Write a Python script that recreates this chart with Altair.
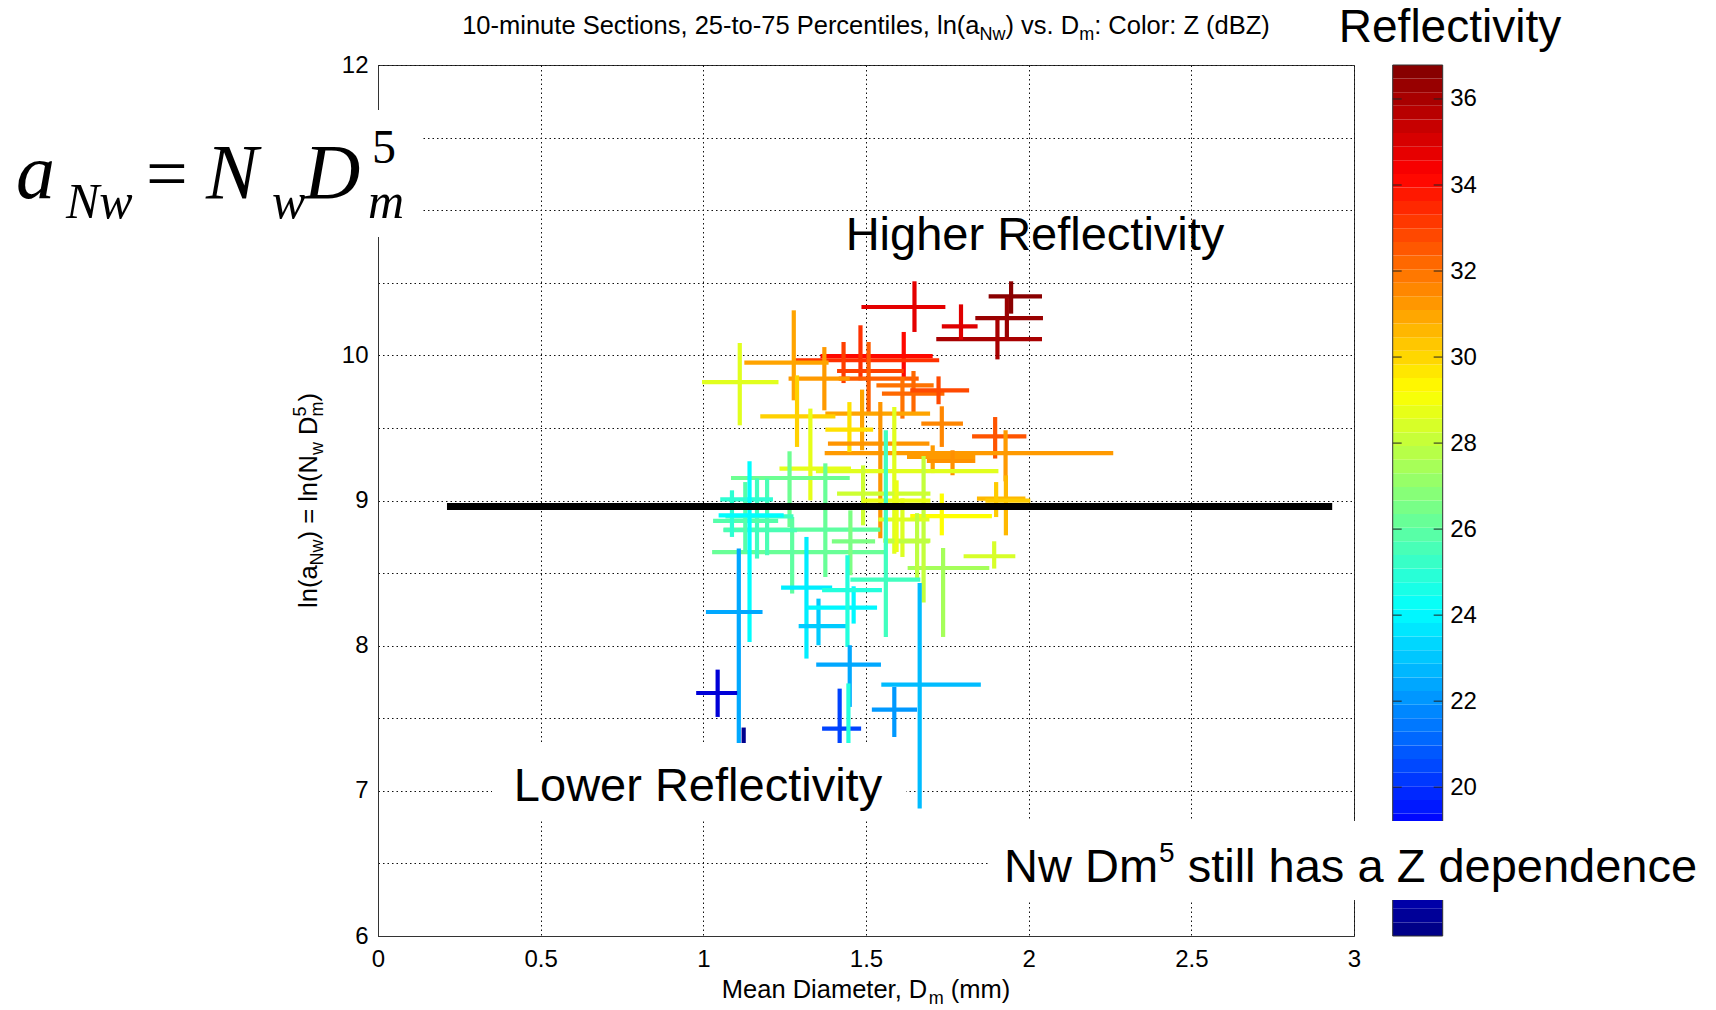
import altair as alt
import pandas as pd
import numpy as np

# ---------------- data ----------------
dm_med = [1.946, 1.933, 1.904, 1.792, 1.649, 1.616, 1.483, 1.431, 1.508, 1.612,
          1.646, 1.723, 1.372, 1.278, 1.733, 1.897, 1.929, 1.488, 1.288, 1.449,
          1.544, 1.705, 1.766, 1.930, 1.900, 1.733, 1.894, 1.737, 1.329, 1.587,
          1.677, 1.491, 1.612, 1.657, 1.594, 1.265, 1.375, 1.273, 1.452, 1.196,
          1.165, 1.129, 1.088, 1.142, 1.109, 1.044, 1.124, 1.317, 1.354, 1.462,
          1.443, 1.561, 1.450, 1.419, 1.446, 1.587, 1.665, 1.112]
dm_q25 = [1.877, 1.836, 1.716, 1.733, 1.486, 1.360, 1.283, 1.411, 1.416, 1.532,
          1.549, 1.636, 1.262, 1.126, 1.670, 1.826, 1.373, 1.375, 1.175, 1.375,
          1.383, 1.626, 1.687, 1.841, 1.867, 1.636, 1.800, 1.628, 1.234, 1.346,
          1.553, 1.411, 1.538, 1.560, 1.489, 1.085, 1.027, 1.062, 1.395, 1.062,
          1.068, 1.030, 1.052, 1.047, 1.008, 0.978, 1.060, 1.239, 1.293, 1.319,
          1.365, 1.452, 1.347, 1.365, 1.400, 1.518, 1.547, 0.996]
dm_q75 = [2.041, 2.044, 2.041, 1.843, 1.744, 1.705, 1.725, 1.616, 1.662, 1.708,
          1.741, 1.817, 1.450, 1.385, 1.798, 1.993, 2.260, 1.697, 1.406, 1.522,
          1.695, 1.836, 1.836, 1.990, 2.005, 1.887, 1.959, 1.879, 1.454, 1.907,
          1.698, 1.698, 1.695, 1.695, 1.698, 1.450, 1.559, 1.544, 1.528, 1.288,
          1.277, 1.230, 1.214, 1.247, 1.182, 1.104, 1.190, 1.396, 1.443, 1.534,
          1.549, 1.667, 1.546, 1.485, 1.500, 1.657, 1.853, 1.231]
ln_med = [10.406, 10.257, 10.112, 10.200, 10.333, 9.995, 9.966, 9.892, 9.840, 9.793,
          9.736, 9.759, 9.840, 9.950, 9.530, 9.442, 9.327, 9.598, 9.580, 9.488,
          9.392, 9.300, 9.272, 9.013, 8.999, 8.893, 8.616, 8.535, 9.220, 9.203,
          8.723, 9.047, 8.869, 8.719, 8.999, 9.155, 8.645, 8.800, 8.719, 8.795,
          8.891, 8.860, 9.008, 8.898, 8.232, 7.674, 6.950, 8.400, 8.134, 8.262,
          8.382, 8.455, 7.870, 7.429, 7.050, 7.560, 7.732, 9.816]
ln_q25 = [10.287, 10.122, 9.972, 10.108, 10.161, 9.851, 9.828, 9.809, 9.610, 9.564,
          9.599, 9.663, 9.621, 9.690, 9.369, 9.289, 9.132, 9.346, 9.369, 9.334,
          8.740, 9.189, 9.174, 8.760, 8.886, 8.760, 8.531, 8.060, 9.001, 8.634,
          8.297, 8.829, 8.611, 8.462, 8.645, 8.817, 8.473, 8.359, 8.485, 8.623,
          8.600, 8.645, 8.749, 8.026, 7.100, 7.509, 6.800, 7.911, 8.003, 8.152,
          7.991, 8.060, 7.578, 7.100, 6.900, 7.371, 6.878, 9.518]
ln_q75 = [10.510, 10.402, 10.253, 10.351, 10.510, 10.161, 10.207, 10.092, 10.092, 9.851,
          9.892, 9.855, 10.057, 10.310, 9.649, 9.575, 9.484, 9.764, 9.862, 9.678,
          9.678, 9.380, 9.346, 9.173, 9.127, 9.048, 8.719, 8.673, 9.633, 9.644,
          9.306, 9.242, 9.015, 8.913, 9.139, 9.339, 9.256, 8.886, 8.932, 9.151,
          9.153, 9.127, 9.070, 9.270, 8.669, 7.835, 7.436, 8.749, 8.324, 8.409,
          8.623, 9.484, 8.003, 7.704, 7.740, 7.716, 8.432, 10.085]
z_dbz = [36.6, 36.3, 36.0, 34.9, 34.8, 34.1, 33.3, 33.0, 32.4, 32.0,
         32.2, 32.8, 31.2, 31.0, 31.6, 32.6, 31.2, 31.0, 30.1, 29.8,
         31.3, 31.2, 31.4, 30.6, 30.2, 29.2, 28.4, 27.4, 28.7, 28.6,
         28.0, 28.2, 28.5, 27.9, 28.8, 26.3, 26.2, 26.0, 26.6, 25.6,
         25.4, 25.8, 25.0, 24.1, 22.4, 18.3, 16.8, 23.8, 23.1, 24.0,
         24.8, 25.4, 22.4, 20.4, 24.8, 22.1, 22.8, 28.6]

ref_line_x = [0.212, 2.933]
ref_line_y = [8.958]

x_ticks = [0, 0.5, 1, 1.5, 2, 2.5, 3]
y_ticks = [6, 6.5, 7, 7.5, 8, 8.5, 9, 9.5, 10, 10.5, 11, 11.5, 12]
cb_ticks = [20, 22, 24, 26, 28, 30, 32, 34, 36]
cb_range = [16.54, 36.79]
jet_colors = ["#000080", "#0000ff", "#00ffff", "#ffff00", "#ff0000", "#800000"]
jet_pos = [0.0, 0.125, 0.375, 0.625, 0.875, 1.0]

# ---------------- layout constants ----------------
W_PLOT, H_PLOT = 976, 871
LEFT, TOP = 378, 65
SANS = "Liberation Sans, Arial, Helvetica, sans-serif"
SERIF = "Liberation Serif, Times New Roman, serif"
FS_T = 25.5    # title / axis titles
FS_S = 18      # subscripts
FS_TICK = 24
FS_ANN = 47

ARIAL = {' ': 278, '(': 333, ')': 333, ',': 278, '-': 333, '.': 278, ':': 278, '=': 584}
for c in '0123456789':
    ARIAL[c] = 556
ARIAL.update({'A': 667, 'B': 667, 'C': 722, 'D': 722, 'E': 667, 'F': 611, 'G': 778, 'H': 722,
              'I': 278, 'J': 500, 'K': 667, 'L': 556, 'M': 833, 'N': 722, 'O': 778, 'P': 667,
              'Q': 778, 'R': 722, 'S': 667, 'T': 611, 'U': 722, 'V': 667, 'W': 944, 'X': 667,
              'Y': 667, 'Z': 611, 'a': 556, 'b': 556, 'c': 500, 'd': 556, 'e': 556, 'f': 278,
              'g': 556, 'h': 556, 'i': 222, 'j': 222, 'k': 500, 'l': 222, 'm': 833, 'n': 556,
              'o': 556, 'p': 556, 'q': 556, 'r': 333, 's': 500, 't': 278, 'u': 556, 'v': 500,
              'w': 722, 'x': 500, 'y': 500, 'z': 500})


def tw(s, size):
    return sum(ARIAL.get(ch, 556) for ch in s) / 1000.0 * size


one = pd.DataFrame({"k": [0]})


def txt(s, x, y, size, font=SANS, style="normal", angle=0, align="left",
        baseline="alphabetic", color="black"):
    return alt.Chart(one).mark_text(
        text=s, font=font, fontSize=size, fontStyle=style, angle=angle,
        align=align, baseline=baseline, color=color
    ).encode(x=alt.value(x), y=alt.value(y))


def box(x0, x1, y0, y1):
    return alt.Chart(one).mark_rect(color="white", opacity=1).encode(
        x=alt.value(x0), x2=alt.value(x1), y=alt.value(y0), y2=alt.value(y1))


# ---------------- scales ----------------
cb_lo, cb_hi = cb_range
jet_domain = [cb_lo + p * (cb_hi - cb_lo) for p in jet_pos]
color_scale = alt.Scale(domain=jet_domain, range=jet_colors, interpolate="rgb")

x_scale = alt.Scale(domain=[0, 3], nice=False, zero=False)
y_scale = alt.Scale(domain=[6, 12], nice=False, zero=False)

x_axis = alt.Axis(values=x_ticks, format="~g", title=None, grid=True, gridColor="#111",
                  gridDash=[1.5, 3], gridWidth=1, tickSize=0, labelPadding=11,
                  labelFont=SANS, labelFontSize=FS_TICK, labelColor="black",
                  domainColor="#333", labelFlush=False)
y_axis = alt.Axis(values=y_ticks, format="~g",
                  labelExpr="datum.value % 1 == 0 ? datum.label : ''",
                  title=None, grid=True, gridColor="#111", gridDash=[1.5, 3], gridWidth=1,
                  tickSize=0, labelPadding=10, labelFont=SANS, labelFontSize=FS_TICK,
                  labelColor="black", domainColor="#333", labelFlush=False)

# ---------------- crosses ----------------
rows = []
for i in range(len(z_dbz)):
    rows.append(dict(xa=dm_q25[i], xb=dm_q75[i], ya=ln_med[i], yb=ln_med[i], z=z_dbz[i]))
    rows.append(dict(xa=dm_med[i], xb=dm_med[i], ya=ln_q25[i], yb=ln_q75[i], z=z_dbz[i]))
cross_df = pd.DataFrame(rows)

crosses = alt.Chart(cross_df).mark_rule(strokeWidth=4.2, strokeCap="butt").encode(
    x=alt.X("xa:Q", scale=x_scale, axis=x_axis),
    x2="xb:Q",
    y=alt.Y("ya:Q", scale=y_scale, axis=y_axis),
    y2="yb:Q",
    color=alt.Color("z:Q", scale=color_scale, legend=None),
)

line_df = pd.DataFrame({"xa": [ref_line_x[0]], "xb": [ref_line_x[1]], "ya": ref_line_y})
ref_line = alt.Chart(line_df).mark_rule(strokeWidth=7, color="black", strokeCap="butt").encode(
    x=alt.X("xa:Q", scale=x_scale, axis=x_axis),
    x2="xb:Q",
    y=alt.Y("ya:Q", scale=y_scale, axis=y_axis),
)

main = alt.layer(crosses, ref_line)

# ---------------- colorbar ----------------
edges = np.linspace(cb_lo, cb_hi, 65)
band_df = pd.DataFrame({"lo": edges[:-1], "hi": edges[1:], "mid": (edges[:-1] + edges[1:]) / 2})
cb_scale = alt.Scale(domain=[cb_lo, cb_hi], nice=False, zero=False)
cb_axis = alt.Axis(orient="right", offset=88.7, values=cb_ticks, ticks=False, domain=False,
                   grid=False, labelPadding=7, title=None, labelFont=SANS,
                   labelFontSize=FS_TICK, labelColor="black")
CB_X0, CB_X1 = 1014.7, 1064.7

bands = alt.Chart(band_df).mark_rect().encode(
    x=alt.value(CB_X0), x2=alt.value(CB_X1),
    y=alt.Y("lo:Q", scale=cb_scale, axis=cb_axis), y2="hi:Q",
    color=alt.Color("mid:Q", scale=color_scale, legend=None),
)
frame_df = pd.DataFrame({"lo": [cb_lo], "hi": [cb_hi]})
cb_frame = alt.Chart(frame_df).mark_rect(fillOpacity=0, stroke="#333", strokeWidth=1).encode(
    x=alt.value(CB_X0), x2=alt.value(CB_X1),
    y=alt.Y("lo:Q", scale=cb_scale, axis=cb_axis), y2="hi:Q",
)
tick_df = pd.DataFrame({"lo": cb_ticks})
cb_tick_l = alt.Chart(tick_df).mark_rule(color="#222", strokeWidth=1).encode(
    x=alt.value(CB_X0), x2=alt.value(CB_X0 + 9),
    y=alt.Y("lo:Q", scale=cb_scale, axis=cb_axis),
)
cb_tick_r = alt.Chart(tick_df).mark_rule(color="#222", strokeWidth=1).encode(
    x=alt.value(CB_X1 - 9), x2=alt.value(CB_X1),
    y=alt.Y("lo:Q", scale=cb_scale, axis=cb_axis),
)
colorbar = alt.layer(bands, cb_tick_l, cb_tick_r, cb_frame)

# ---------------- annotations ----------------
ann = []
# white boxes
ann.append(box(-378, 43, 45, 172))          # formula box
ann.append(box(114, 528, 678, 755))         # lower reflectivity box
ann.append(box(612, 1338, 756, 835))        # Z dependence box

# title with subscripts
t1 = "10-minute Sections, 25-to-75 Percentiles, ln(a"
t3 = ") vs. D"
t5 = ": Color: Z (dBZ)"
tot = tw(t1, FS_T) + tw("Nw", FS_S) + tw(t3, FS_T) + tw("m", FS_S) + tw(t5, FS_T)
x0 = W_PLOT / 2 - tot / 2
yb = -31
ann.append(txt(t1, x0, yb, FS_T)); x0 += tw(t1, FS_T)
ann.append(txt("Nw", x0, yb + 6, FS_S)); x0 += tw("Nw", FS_S)
ann.append(txt(t3, x0, yb, FS_T)); x0 += tw(t3, FS_T)
ann.append(txt("m", x0, yb + 6, FS_S)); x0 += tw("m", FS_S)
ann.append(txt(t5, x0, yb, FS_T))

# x axis title  "Mean Diameter, D_m (mm)"
a1, a3 = "Mean Diameter, D", "(mm)"
sp = tw(" ", FS_T)
tot = tw(a1, FS_T) + tw("m", FS_S) + sp + tw(a3, FS_T)
x0 = W_PLOT / 2 - tot / 2
yb = 933
ann.append(txt(a1, x0, yb, FS_T)); x0 += tw(a1, FS_T)
ann.append(txt("m", x0, yb + 6, FS_S)); x0 += tw("m", FS_S) + sp
ann.append(txt(a3, x0, yb, FS_T))

# y axis title (rotated, reading upward)  "ln(a_Nw) = ln(N_w D_m^5)"
p1, p3, p5, p7 = "ln(a", ") = ln(N", "D", ")"
tot = (tw(p1, FS_T) + tw("Nw", FS_S) + tw(p3, FS_T) + tw("w", FS_S) + sp + tw(p5, FS_T)
       + tw("m", FS_S) + tw(p7, FS_T))
yy = H_PLOT / 2 + tot / 2
xb = -61
ann.append(txt(p1, xb, yy, FS_T, angle=270)); yy -= tw(p1, FS_T)
ann.append(txt("Nw", xb + 6, yy, FS_S, angle=270)); yy -= tw("Nw", FS_S)
ann.append(txt(p3, xb, yy, FS_T, angle=270)); yy -= tw(p3, FS_T)
ann.append(txt("w", xb + 6, yy, FS_S, angle=270)); yy -= tw("w", FS_S) + sp
ann.append(txt(p5, xb, yy, FS_T, angle=270)); yy -= tw(p5, FS_T)
ann.append(txt("m", xb + 6, yy, FS_S, angle=270))
ann.append(txt("5", xb - 11, yy, FS_S, angle=270)); yy -= tw("m", FS_S)
ann.append(txt(p7, xb, yy, FS_T, angle=270))

# formula  a_Nw = N_w D_m^5
ann.append(txt("a", -362, 133, 78, font=SERIF, style="italic"))
ann.append(txt("Nw", -312, 153, 50, font=SERIF, style="italic"))
ann.append(txt("=", -232, 133, 74, font=SERIF))
ann.append(txt("N", -172, 133, 78, font=SERIF, style="italic"))
ann.append(txt("w", -106, 153, 50, font=SERIF, style="italic"))
ann.append(txt("D", -74, 133, 78, font=SERIF, style="italic"))
ann.append(txt("m", -10, 153, 50, font=SERIF, style="italic"))
ann.append(txt("5", -6, 98, 48, font=SERIF))

# big annotations
ann.append(txt("Higher Reflectivity", 657, 184.5, FS_ANN, align="center"))
ann.append(txt("Lower Reflectivity", 320, 736, FS_ANN, align="center"))
ann.append(txt("Reflectivity", 1072, -23, 46, align="center"))
n1, n3 = "Nw Dm", "still has a Z dependence"
x0 = 626
ann.append(txt(n1, x0, 817, FS_ANN)); x0 += tw(n1, FS_ANN)
ann.append(txt("5", x0 + 1, 797, 28)); x0 += tw("5", 28) + 1 + tw(" ", FS_ANN)
ann.append(txt(n3, x0, 817, FS_ANN))

annotations = alt.layer(*ann)

chart = alt.layer(main, colorbar, annotations).resolve_scale(
    y="independent", color="shared"
).properties(
    width=W_PLOT, height=H_PLOT,
    padding={"left": LEFT, "top": TOP, "right": 1716 - LEFT - W_PLOT, "bottom": 1010 - TOP - H_PLOT},
    autosize=alt.AutoSizeParams(type="none"),
    background="white",
).configure_view(stroke="#333", strokeWidth=1)

chart.save("out.html", embed_options={"renderer": "svg", "actions": False})
